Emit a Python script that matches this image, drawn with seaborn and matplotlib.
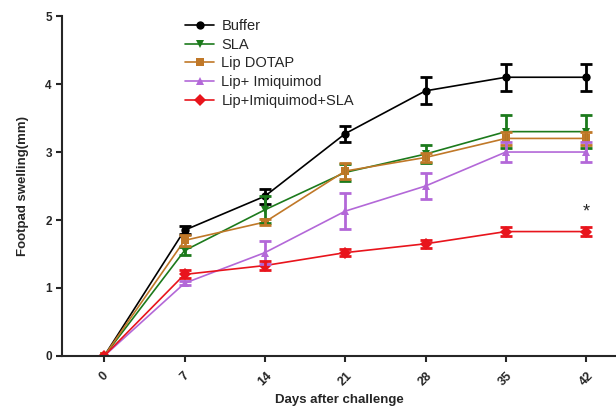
import pandas as pd
import seaborn as sns
import matplotlib
matplotlib.use("Agg")
import matplotlib.pyplot as plt

# Values
days = [0, 7, 14, 21, 28, 35, 42]
groups = ["Buffer", "SLA", "Lip DOTAP", "Lip+ Imiquimod", "Lip+Imiquimod+SLA"]
buffer = [0, 1.85, 2.35, 3.27, 3.90, 4.10, 4.10]
buffer_err = [0, 0.06, 0.11, 0.12, 0.20, 0.20, 0.20]
sla = [0, 1.55, 2.15, 2.70, 2.97, 3.30, 3.30]
sla_err = [0, 0.06, 0.20, 0.13, 0.13, 0.24, 0.24]
dotap = [0, 1.70, 1.97, 2.72, 2.92, 3.20, 3.20]
dotap_err = [0, 0.08, 0.05, 0.12, 0.07, 0.10, 0.10]
imq = [0, 1.07, 1.52, 2.13, 2.50, 3.00, 3.00]
imq_err = [0, 0.03, 0.17, 0.26, 0.19, 0.15, 0.15]
imq_sla = [0, 1.20, 1.33, 1.52, 1.65, 1.83, 1.83]
imq_sla_err = [0, 0.06, 0.07, 0.05, 0.06, 0.06, 0.06]

colors = ["#000000", "#1c7a1c", "#c07828", "#b368d8", "#e8141c"]
markers = ["o", "v", "s", "^", "D"]

means = [buffer, sla, dotap, imq, imq_sla]
errs = [buffer_err, sla_err, dotap_err, imq_err, imq_sla_err]

rows = []
for g, m, e in zip(groups, means, errs):
    for d, v, s in zip(days, m, e):
        rows.append({"day": d, "swelling": v, "err": s, "group": g})
df = pd.DataFrame(rows)

sns.set_style("ticks")
plt.rcParams["font.family"] = ["Liberation Sans", "DejaVu Sans"]

fig = plt.figure(figsize=(6.16, 4.12), dpi=100)
ax = fig.add_axes([0.101, 0.136, 0.899, 0.825])

sns.lineplot(data=df, x="day", y="swelling", hue="group", style="group",
             hue_order=groups, style_order=groups, palette=colors,
             markers=markers, dashes=False, markersize=6, linewidth=1.2,
             markeredgewidth=0, ax=ax)

for g, c in zip(groups, colors):
    sub = df[df["group"] == g]
    ax.errorbar(sub["day"], sub["swelling"], yerr=sub["err"], fmt="none",
                ecolor=c, elinewidth=2, capsize=4, capthick=2)

ax.text(42, 2.12, "*", ha="center", va="center", fontsize=13)

ax.set_xlim(-3.66, 44.6)
ax.set_ylim(0, 5)
ax.set_xticks(days)
ax.set_yticks([0, 1, 2, 3, 4, 5])
ax.set_xticklabels([str(d) for d in days], rotation=45, fontweight="bold", fontsize=9)
ax.set_yticklabels([str(v) for v in range(6)], fontweight="bold", fontsize=8.5)
ax.set_xlabel("Days after challenge", fontweight="bold", fontsize=9.5, labelpad=4)
ax.set_ylabel("Footpad swelling(mm)", fontweight="bold", fontsize=9.5, labelpad=12)
for side in ["top", "right"]:
    ax.spines[side].set_visible(False)
for side in ["left", "bottom"]:
    ax.spines[side].set_linewidth(1.5)
ax.tick_params(width=1.5, length=4)
ax.tick_params(axis="x", pad=6)

ax.legend(loc="upper left", bbox_to_anchor=(0.198, 1.03), frameon=False,
          fontsize=10.5, handlelength=2.0, labelspacing=0.32, handletextpad=0.5)

fig.savefig("out.png", dpi=100)
